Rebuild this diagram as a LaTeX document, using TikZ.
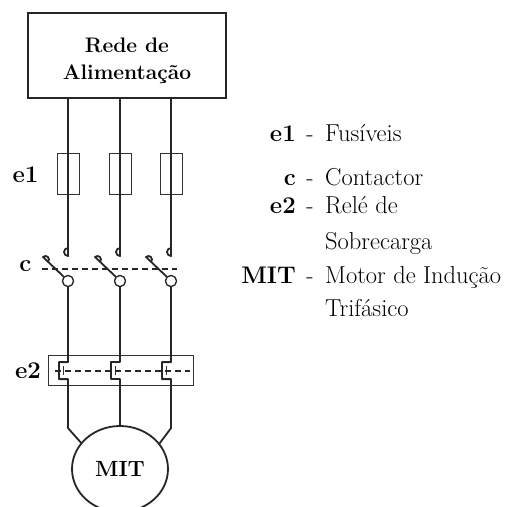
\documentclass[tikz,border=0pt]{standalone}
\usetikzlibrary{shapes.geometric, positioning}

\begin{document}
\begin{tikzpicture}[
    x=1pt, y=-1pt,
    wire/.style={line width=1.8pt, draw=black!85, line join=round},
    fuse/.style={draw=black!80, line width=1pt, minimum width=22pt, minimum height=41pt, inner sep=0pt},
    pivot/.style={draw=black!85, circle, line width=1.2pt, minimum size=11pt, inner sep=0pt, fill=white},
    link/.style={draw=black!85, line width=1.1pt, dash pattern=on 6pt off 4pt},
    tag/.style={font=\fontsize{24}{28}\selectfont\bfseries, inner sep=0pt},
    sep/.style={font=\fontsize{24}{28}\selectfont, anchor=base, inner sep=0pt},
    desc/.style={font=\fontsize{24.5}{28}\selectfont, anchor=base west, inner sep=0pt}
]
   \useasboundingbox (0,0) rectangle (505,507);

   % Supply box
   \node[draw=black!85, line width=1.5pt, minimum width=198pt, minimum height=85pt] (rede) at (127,55.5) {};
   \node[align=center, font=\fontsize{21}{27}\selectfont\bfseries] (redetxt) at ([yshift=-5pt]rede.center) {Rede de\\Alimenta\c{c}\~ao};

   % Fuses
   \node[fuse] (fa) at (68,173.5) {};
   \node[fuse] (fb) at (120,173.5) {};
   \node[fuse] (fc) at (171,173.5) {};

   % Contactor
   \coordinate (ha) at (68,256);
   \coordinate (hb) at (120,256);
   \coordinate (hc) at (171,256);
   \node[pivot] (ka) at (68,281) {};
   \node[pivot] (kb) at (120,281) {};
   \node[pivot] (kc) at (171,281) {};
   \coordinate (ba) at (43,257);
   \coordinate (bb) at (95,257);
   \coordinate (bc) at (146,257);
   \coordinate (cl) at (42,269);
   \coordinate (cr) at (177,269);

   % Overload relay
   \node[draw=black!80, line width=1pt, minimum width=145pt, minimum height=30pt, inner sep=0pt] (rele) at (120.5,370) {};
   \coordinate (rl) at (55,371);
   \coordinate (rr) at (190,371);

   % Motor
   \node[draw=black!85, ellipse, line width=1.8pt, minimum width=96pt, minimum height=86pt, inner sep=0pt,
         font=\fontsize{22}{24}\selectfont\bfseries] (motor) at (120,469) {MIT};

   % Lines from supply through fuses
   \draw[wire] (rede.south -| fa) -- (ha) arc[start angle=90, end angle=270, radius=4];
   \draw[wire] (rede.south -| fb) -- (hb) arc[start angle=90, end angle=270, radius=4];
   \draw[wire] (rede.south -| fc) -- (hc) arc[start angle=90, end angle=270, radius=4];

   % Blades
   \draw[wire] (ka.135) -- (ba) arc[start angle=225, end angle=405, radius=3.5];
   \draw[wire] (kb.135) -- (bb) arc[start angle=225, end angle=405, radius=3.5];
   \draw[wire] (kc.135) -- (bc) arc[start angle=225, end angle=405, radius=3.5];
   \draw[link] (cl) -- (cr);
   \node[pivot] at (ka) {};
   \node[pivot] at (kb) {};
   \node[pivot] at (kc) {};

   % Lines through relay to motor
   \draw[wire] (ka.south) -- ++(0,75) -- ++(-9,0) -- ++(0,17) -- ++(9,0) -- ++(0,49) -- (motor.146);
   \draw[wire] (kb.south) -- ++(0,75) -- ++(-9,0) -- ++(0,17) -- ++(9,0) -- (motor.north);
   \draw[wire] (kc.south) -- ++(0,75) -- ++(-9,0) -- ++(0,17) -- ++(9,0) -- ++(0,49) -- (motor.33);
   \draw[draw=black!80, line width=1pt] (63,366) -- (63,375) (115,366) -- (115,375) (166,366) -- (166,375);
   \draw[link] (rl) -- (rr);

   % Left labels
   \node[tag] (le1) at (25.5,175) {e1};
   \node[tag] (lc) at (25.5,266) {c};
   \node[tag] (le2) at (28,371) {e2};

   % Legend
   \node[tag, anchor=base east] (te1) at (296,141) {e1};
   \node[sep] (se1) at (310,141) {-};
   \node[desc] (de1) at (325,141) {Fus\'iveis};

   \node[tag, anchor=base east] (tc) at (296,185) {c};
   \node[sep] (sc) at (310,185) {-};
   \node[desc] (dc) at (325,185) {Contactor};

   \node[tag, anchor=base east] (te2) at (296,213) {e2};
   \node[sep] (se2) at (310,213) {-};
   \node[desc] (de2) at (325,213) {Rel\'e de};
   \node[desc] (de2b) at (325,249) {Sobrecarga};

   \node[tag, anchor=base east] (tm) at (296,283) {MIT};
   \node[sep] (sm) at (310,283) {-};
   \node[desc] (dm) at (325,283) {Motor de Indu\c{c}\~ao};
   \node[desc] (dmb) at (325,316) {Trif\'asico};

\end{tikzpicture}
\end{document}
